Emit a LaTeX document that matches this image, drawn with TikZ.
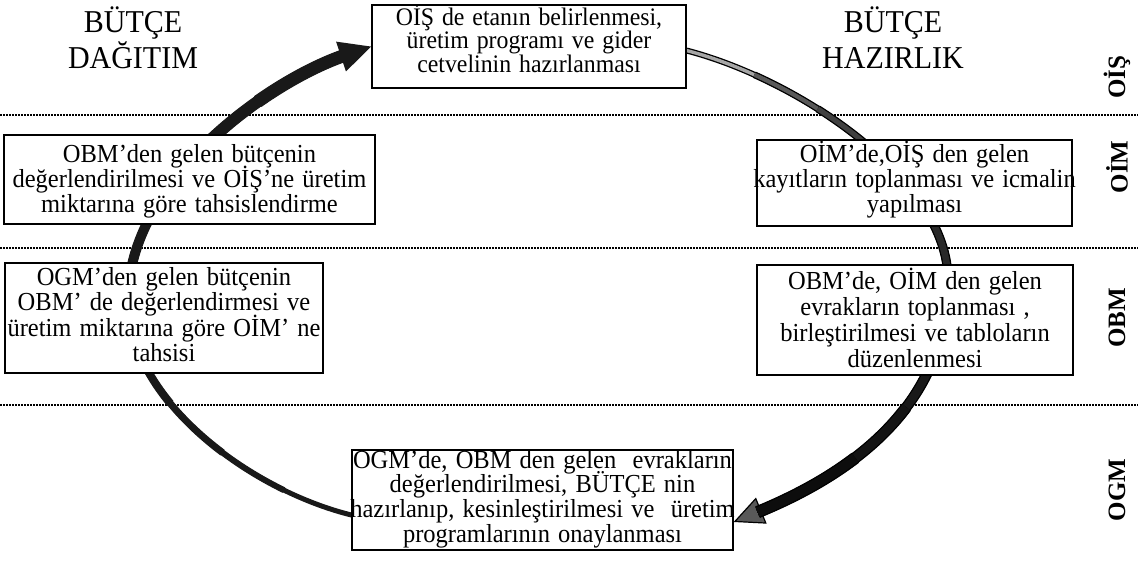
\documentclass[tikz,border=0pt]{standalone}
\usepackage{fontspec}
\setmainfont{Liberation Serif}
\usetikzlibrary{arrows.meta}
\pgfdeclarelayer{background}
\pgfsetlayers{background,main}
% font size with a fixed baseline distance, also for lines with tall accented capitals
\newcommand\fixedlines[2]{\fontsize{#1}{#2}\selectfont\lineskiplimit=-30pt\relax}

\begin{document}
\begin{tikzpicture}[x=1pt,y=-1pt,
  box/.style n args={2}{draw=black, line width=1.2pt, fill=white, inner sep=0pt,
    minimum width=#1, minimum height=#2},
  txt/.style={font=\fontsize{24.5}{23.6}\selectfont,
    execute at begin node={\fixedlines{24.5}{23.6}},
    align=center, text width=#1, inner sep=0pt, anchor=base, yscale=1.06},
  title/.style={font=\fontsize{30}{34}\selectfont,
    execute at begin node={\fixedlines{30}{34}},
    align=center, text width=240, inner sep=0pt, anchor=base, yscale=1.06},
  level/.style={font=\bfseries\fontsize{25}{25}\selectfont, rotate=90, inner sep=0pt},
  sep/.style={line width=1.4pt, dash pattern=on 1.5pt off 1.5pt},
  larc/.style={draw=black!90, line cap=butt},
  rrim/.style={draw=black, line cap=butt},
]
\useasboundingbox (0,0) rectangle (1138,566);

% headings
\node[title] (headL) at (133,32) {BÜTÇE\\DAĞITIM};
\node[title] (headR) at (893,32) {BÜTÇE\\HAZIRLIK};

% organisation levels
\node[level] (lvOIS) at (1117,77)  {OİŞ};
\node[level] (lvOIM) at (1117,167) {OİM};
\node[level] (lvOBM) at (1117,318) {OBM};
\node[level] (lvOGM) at (1117,490) {OGM};

% process boxes
\node[box={314}{83}]  (top) at (529,46.5) {};
\node[box={371}{89}]  (l1)  at (189.5,179.5) {};
\node[box={318}{110}] (l2)  at (164,318) {};
\node[box={315}{86}]  (r1)  at (914.5,183) {};
\node[box={316}{110}] (r2)  at (915,320) {};
\node[box={381}{100}] (bot) at (542.5,500) {};

\node[txt=360, font=\fontsize{23.8}{22.2}\selectfont,
      execute at begin node={\fixedlines{23.8}{22.2}}] (topT) at (529,25)
  {OİŞ de etanın belirlenmesi,\\üretim programı ve gider\\cetvelinin hazırlanması};
\node[txt=410] (l1T) at (189.5,162)
  {OBM’den gelen bütçenin\\değerlendirilmesi ve OİŞ’ne üretim\\miktarına göre tahsislendirme};
\node[txt=360, execute at begin node={\fixedlines{24.5}{24.1}}] (l2T) at (164,285)
  {OGM’den gelen bütçenin\\OBM’ de değerlendirmesi ve\\üretim miktarına göre OİM’ ne\\tahsisi};
\node[txt=360] (r1T) at (914.5,162)
  {OİM’de,OİŞ den gelen\\kayıtların toplanması ve icmalin\\yapılması};
\node[txt=360, execute at begin node={\fixedlines{24.5}{24.7}}] (r2T) at (915,289)
  {OBM’de, OİM den gelen\\evrakların toplanması ,\\birleştirilmesi ve tabloların\\düzenlenmesi};
\node[txt=420, execute at begin node={\fixedlines{24.5}{23.3}}] (botT) at (542.5,468)
  {OGM’de, OBM den gelen\ \ evrakların\\değerlendirilmesi, BÜTÇE nin\\hazırlanıp, kesinleştirilmesi ve\ \ üretim\\programlarının onaylanması};

\begin{pgfonlayer}{background}
  % level separators
  \foreach \yy in {115,248,405}
    \draw[sep] (0,\yy) -- (1138,\yy);

  \coordinate (lmid) at (128,300);
  \coordinate (rmid) at (948,280);

  % distribution cycle (left), widening towards its head
  \draw[larc, line width=5pt, -{Triangle[length=32pt,width=30pt]}]
    ([yshift=-15pt]bot.west) .. controls (250,490) and (128,400) .. (lmid)
    .. controls (128,180) and (270,80) .. (top.west);
  \foreach \i in {1,...,8} {
    \pgfmathsetmacro\w{5+\i}
    \pgfmathsetmacro\o{\i*72}
    \draw[larc, line width=\w pt, shorten >=26pt,
          dash pattern=on 0pt off \o pt on 3000pt off 1pt]
      ([yshift=-15pt]bot.west) .. controls (250,490) and (128,400) .. (lmid)
      .. controls (128,180) and (270,80) .. (top.west);
  }

  % preparation cycle (right), light at the start and darker towards its head
  \draw[rrim, line width=6pt,
        -{Triangle[length=30pt,width=28pt,line width=1.2pt,fill=black!65]}]
    ([yshift=-4pt]top.east) .. controls (800,80) and (948,180) .. (rmid)
    .. controls (948,400) and (860,470) .. ([yshift=-22pt]bot.east);
  \foreach \i/\sh in {0/35,1/65,2/75,3/80,4/84,5/87,6/90,7/92,8/95} {
    \pgfmathsetmacro\w{6+\i*0.8}
    \pgfmathsetmacro\wi{\w-2.6}
    \pgfmathsetmacro\o{\i*72}
    \ifnum\i>0
      \draw[rrim, line width=\w pt, shorten >=26pt,
            dash pattern=on 0pt off \o pt on 3000pt off 1pt]
        ([yshift=-4pt]top.east) .. controls (800,80) and (948,180) .. (rmid)
        .. controls (948,400) and (860,470) .. ([yshift=-22pt]bot.east);
    \fi
    \draw[draw=black!\sh, line cap=butt, line width=\wi pt, shorten >=26pt,
          dash pattern=on 0pt off \o pt on 3000pt off 1pt]
      ([yshift=-4pt]top.east) .. controls (800,80) and (948,180) .. (rmid)
      .. controls (948,400) and (860,470) .. ([yshift=-22pt]bot.east);
  }
\end{pgfonlayer}
\end{tikzpicture}
\end{document}
